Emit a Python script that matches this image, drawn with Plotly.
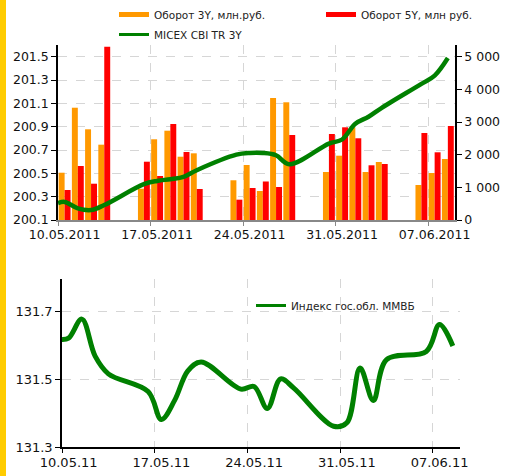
import plotly.graph_objects as go

W, H = 516, 476

# ---------------- data ----------------
bar_dates = ["2011-05-10", "2011-05-11", "2011-05-12", "2011-05-13",
             "2011-05-16", "2011-05-17", "2011-05-18", "2011-05-19", "2011-05-20",
             "2011-05-23", "2011-05-24", "2011-05-25", "2011-05-26", "2011-05-27",
             "2011-05-30", "2011-05-31", "2011-06-01", "2011-06-02", "2011-06-03",
             "2011-06-06", "2011-06-07", "2011-06-08"]
turnover_3y = [1448, 3438, 2777, 2306,
               958, 2471, 2734, 1938, 2042,
               1216, 1684, 888, 3735, 3604,
               1470, 1969, 2838, 1470, 1776,
               1072, 1439, 1868]
turnover_5y = [919, 1653, 1111, 5306,
               1785, 1347, 2939, 2082, 949,
               622, 980, 1179, 1010, 2603,
               2633, 2838, 2502, 1675, 1715,
               2664, 2073, 2878]
micex_cbi_3y = [200.255, 200.20, 200.185, 200.228,
                200.407, 200.435, 200.45, 200.47, 200.527,
                200.66, 200.675, 200.675, 200.655, 200.578,
                200.755, 200.79, 200.925, 200.985, 201.062,
                201.267, 201.338, 201.489]
micex_start = 200.245
gov_index = [131.621, 131.677, 131.568, 131.516,
             131.464, 131.382, 131.438, 131.525, 131.551,
             131.471, 131.479, 131.414, 131.501, 131.474,
             131.362, 131.372, 131.533, 131.438, 131.558,
             131.582, 131.661, 131.598]
gov_start = 131.617

week_ticks = ["2011-05-10", "2011-05-17", "2011-05-24", "2011-05-31", "2011-06-07"]

ORANGE = "#FF9900"
RED = "#FF0000"
GREEN = "#008000"
FONT = "DejaVu Sans"

mid_dates = [d + " 12:00" for d in bar_dates]
line_x = ["2011-05-10 00:00"] + mid_dates
label_pos = [d + " 12:00" for d in week_ticks]

fig = go.Figure()

fig.add_trace(go.Bar(x=mid_dates, y=turnover_3y, marker_color=ORANGE, marker_line_width=0,
                     xaxis="x", yaxis="y", showlegend=False, name="Оборот 3Y, млн.руб."))
fig.add_trace(go.Bar(x=mid_dates, y=turnover_5y, marker_color=RED, marker_line_width=0,
                     xaxis="x", yaxis="y", showlegend=False, name="Оборот 5Y, млн руб."))
fig.add_trace(go.Scatter(x=line_x, y=[micex_start] + micex_cbi_3y, mode="lines",
                         line=dict(color=GREEN, width=4.5, shape="spline", smoothing=1.0),
                         xaxis="x", yaxis="y2", showlegend=False, name="MICEX CBI TR 3Y"))
fig.add_trace(go.Scatter(x=line_x, y=[gov_start] + gov_index, mode="lines",
                         line=dict(color=GREEN, width=5, shape="spline", smoothing=1.0),
                         xaxis="x2", yaxis="y3", showlegend=False, name="Индекс гос.обл. ММВБ"))

fig.add_trace(go.Scatter(x=[None], y=[None], mode="lines", line=dict(color=ORANGE, width=5),
                         name="Оборот 3Y, млн.руб.", legend="legend", xaxis="x", yaxis="y"))
fig.add_trace(go.Scatter(x=[None], y=[None], mode="lines", line=dict(color=RED, width=5),
                         name="Оборот 5Y, млн руб.", legend="legend", xaxis="x", yaxis="y"))
fig.add_trace(go.Scatter(x=[None], y=[None], mode="lines", line=dict(color=GREEN, width=3),
                         name="MICEX CBI TR 3Y", legend="legend2", xaxis="x", yaxis="y"))
fig.add_trace(go.Scatter(x=[None], y=[None], mode="lines", line=dict(color=GREEN, width=3),
                         name="Индекс гос.обл. ММВБ", legend="legend3", xaxis="x2", yaxis="y3"))

def px_x(p):
    return p / W

def px_y(p):
    return 1 - p / H

grid = dict(showgrid=True, gridcolor="#d6d6d6", griddash="dash", gridwidth=1)

def minor_ticks(color):
    return dict(tickmode="array", tickvals=week_ticks, ticks="outside", ticklen=4,
                tickcolor=color, **grid)

fig.update_layout(
    width=W, height=H,
    margin=dict(l=0, r=0, t=0, b=0, autoexpand=False),
    paper_bgcolor="white", plot_bgcolor="white",
    font=dict(family=FONT, size=12.5, color="#111"),
    separators=". ",
    barmode="group", bargap=0.1, bargroupgap=0,
    xaxis=dict(domain=[px_x(58), px_x(455)], anchor="y", type="date", automargin=False,
               range=["2011-05-10", "2011-06-09 01:00"],
               tickmode="array", tickvals=label_pos, tickformat="%d.%m.%Y", ticks="",
               ticklabelstandoff=2,
               showgrid=False, minor=minor_ticks("#888"),
               showline=True, linecolor="#888", linewidth=2),
    yaxis=dict(domain=[px_y(220), px_y(45)], anchor="x", side="right", automargin=False,
               range=[0, 5358], tickvals=[0, 1000, 2000, 3000, 4000, 5000], tickformat=",d",
               ticks="outside", ticklen=5, tickcolor="black",
               showline=True, linecolor="black", linewidth=1.5, showgrid=False,
               zeroline=False),
    yaxis2=dict(overlaying="y", anchor="x", side="left", automargin=False,
                range=[200.1, 201.6], tick0=200.1, dtick=0.2, tickformat=".1f",
                ticks="outside", ticklen=5, tickcolor="black",
                showline=True, linecolor="black", linewidth=1.5, zeroline=False, **grid),
    xaxis2=dict(domain=[px_x(62), px_x(460)], anchor="y3", type="date", automargin=False,
                range=["2011-05-10", "2011-06-09 01:00"],
                tickmode="array", tickvals=label_pos, tickformat="%d.%m.%y", ticks="",
                ticklabelstandoff=2,
                tickfont=dict(size=13), showgrid=False, minor=minor_ticks("black"),
                showline=True, linecolor="black", linewidth=1.5),
    yaxis3=dict(domain=[px_y(447.3), px_y(279)], anchor="x2", automargin=False,
                range=[131.3, 131.795], tickvals=[131.3, 131.5, 131.7], tickformat=".1f",
                tickfont=dict(size=13),
                ticks="outside", ticklen=5, tickcolor="black",
                showline=True, linecolor="black", linewidth=1.5, zeroline=False, **grid),
    legend=dict(orientation="h", x=px_x(114), y=px_y(0), xanchor="left", yanchor="top",
                entrywidth=162, entrywidthmode="pixels",
                font=dict(size=10.5, color="#222"), bgcolor="rgba(0,0,0,0)"),
    legend2=dict(orientation="h", x=px_x(114), y=px_y(20), xanchor="left", yanchor="top",
                 font=dict(size=10.5, color="#222"), bgcolor="rgba(0,0,0,0)"),
    legend3=dict(orientation="h", x=px_x(251), y=px_y(291), xanchor="left", yanchor="top",
                 font=dict(size=10.5, color="#222"), bgcolor="rgba(0,0,0,0)"),
    shapes=[dict(type="rect", xref="paper", yref="paper", x0=0, x1=px_x(6), y0=0, y1=1,
                 fillcolor="#FFCC00", line=dict(width=0), layer="below")],
)

fig.write_html("out.html", config={"displayModeBar": False},
               post_script="document.body.style.margin='0';document.body.style.overflow='hidden';")
